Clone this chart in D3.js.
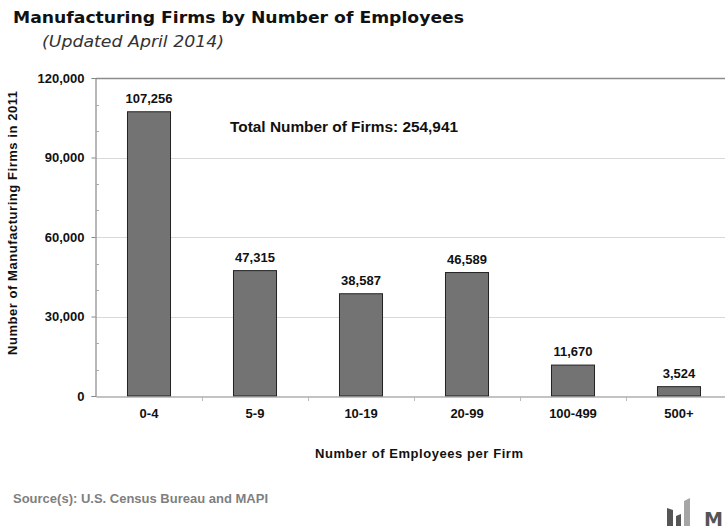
<!DOCTYPE html>
<html>
<head>
<meta charset="utf-8">
<script src="https://cdn.jsdelivr.net/npm/d3@7"></script>
<style>
  html, body { margin: 0; padding: 0; background: #fff; }
  svg { display: block; }
  text { font-family: "Liberation Sans", Arial, sans-serif; }
</style>
</head>
<body>
<svg id="chart" width="725" height="531"></svg>
<script>
// Firm-size classes and counts (2011)
const categories = ["0-4", "5-9", "10-19", "20-99", "100-499", "500+"];
const firms = [107256, 47315, 38587, 46589, 11670, 3524];
const totalFirms = 254941;
const yMajorTicks = [0, 30000, 60000, 90000, 120000];
const yMinorTicks = [10000, 20000, 40000, 50000, 70000, 80000, 100000, 110000];

const svg = d3.select("#chart");
const fmt = d3.format(",");

const plot = { left: 96, right: 732, top: 78, bottom: 396 };

const x = d3.scaleBand()
  .domain(categories)
  .range([plot.left, plot.right])
  .paddingInner(0.594)
  .paddingOuter(0.297);

const y = d3.scaleLinear()
  .domain([0, 120000])
  .range([plot.bottom, plot.top]);

// Title and subtitle
svg.append("text")
  .attr("x", 13).attr("y", 23)
  .attr("textLength", 451).attr("lengthAdjust", "spacingAndGlyphs")
  .style("font-family", "'DejaVu Sans', Verdana, sans-serif")
  .style("font-weight", "bold").style("font-size", "15.5px")
  .attr("fill", "#111")
  .text("Manufacturing Firms by Number of Employees");

svg.append("text")
  .attr("x", 42).attr("y", 47)
  .attr("textLength", 182).attr("lengthAdjust", "spacingAndGlyphs")
  .style("font-family", "'DejaVu Sans', Verdana, sans-serif")
  .style("font-style", "italic").style("font-size", "15px")
  .attr("fill", "#333")
  .text("(Updated April 2014)");

// Horizontal gridlines
svg.append("g").selectAll("line")
  .data(yMajorTicks.filter(d => d > 0))
  .join("line")
  .attr("x1", plot.left).attr("x2", plot.right)
  .attr("y1", d => Math.round(y(d)) + 0.5).attr("y2", d => Math.round(y(d)) + 0.5)
  .attr("stroke", d => d === 120000 ? "#8c8c8c" : "#d9d9d9")
  .attr("stroke-width", d => d === 120000 ? 1.5 : 1.2);

// Y axis with major ticks outside and minor ticks inside
const yAxis = d3.axisLeft(y)
  .tickValues(yMajorTicks)
  .tickSize(4)
  .tickPadding(7)
  .tickFormat(fmt);

const yG = svg.append("g")
  .attr("transform", `translate(${plot.left - 0.5},0)`)
  .call(yAxis);
yG.select(".domain").attr("stroke", "#888").attr("stroke-width", 1.2);
yG.selectAll(".tick line").attr("stroke", "#888");
yG.selectAll(".tick text")
  .style("font-family", "'Liberation Sans', Arial, sans-serif")
  .style("font-weight", "bold").style("font-size", "13px")
  .attr("fill", "#111");

svg.append("g").selectAll("line")
  .data(yMinorTicks)
  .join("line")
  .attr("x1", plot.left).attr("x2", plot.left + 3)
  .attr("y1", d => Math.round(y(d)) + 0.5).attr("y2", d => Math.round(y(d)) + 0.5)
  .attr("stroke", "#aaa");

// Bars
svg.append("g").selectAll("rect")
  .data(categories.map((c, i) => ({ c, v: firms[i] })))
  .join("rect")
  .attr("x", d => x(d.c))
  .attr("y", d => y(d.v))
  .attr("width", x.bandwidth())
  .attr("height", d => y(0) - y(d.v))
  .attr("fill", "#737373")
  .attr("stroke", "#222")
  .attr("stroke-width", 1);

// Value labels
svg.append("g").selectAll("text")
  .data(categories.map((c, i) => ({ c, v: firms[i] })))
  .join("text")
  .attr("x", d => x(d.c) + x.bandwidth() / 2)
  .attr("y", d => y(d.v) - 9)
  .attr("text-anchor", "middle")
  .style("font-weight", "bold").style("font-size", "13px")
  .attr("fill", "#111")
  .text(d => fmt(d.v));

// X axis
const xAxis = d3.axisBottom(x).tickSize(0).tickPadding(12);
const xG = svg.append("g")
  .attr("transform", `translate(0,${plot.bottom + 0.5})`)
  .call(xAxis);
xG.select(".domain").attr("stroke", "#888").attr("stroke-width", 1.2);
xG.selectAll(".tick text")
  .style("font-family", "'Liberation Sans', Arial, sans-serif")
  .style("font-weight", "bold").style("font-size", "13px")
  .attr("fill", "#111");

// Category separator ticks
svg.append("g").selectAll("line")
  .data(categories.slice(1))
  .join("line")
  .attr("x1", d => Math.round(x(d) - x.step() * x.paddingInner() / 2) + 0.5)
  .attr("x2", d => Math.round(x(d) - x.step() * x.paddingInner() / 2) + 0.5)
  .attr("y1", plot.bottom).attr("y2", plot.bottom + 5)
  .attr("stroke", "#bbb");

// Total annotation
svg.append("text")
  .attr("x", 230).attr("y", 132)
  .attr("textLength", 228).attr("lengthAdjust", "spacingAndGlyphs")
  .style("font-weight", "bold").style("font-size", "14.5px")
  .attr("fill", "#111")
  .text("Total Number of Firms: " + fmt(totalFirms));

// Axis titles
svg.append("text")
  .attr("transform", "translate(17,223) rotate(-90)")
  .attr("text-anchor", "middle")
  .attr("textLength", 264).attr("lengthAdjust", "spacing")
  .style("font-weight", "bold").style("font-size", "13px")
  .attr("fill", "#111")
  .text("Number of Manufacturing  Firms  in 2011");

svg.append("text")
  .attr("x", 315).attr("y", 458)
  .attr("textLength", 208).attr("lengthAdjust", "spacing")
  .style("font-weight", "bold").style("font-size", "13px")
  .attr("fill", "#111")
  .text("Number of Employees per Firm");

// Source note
svg.append("text")
  .attr("x", 13).attr("y", 503)
  .attr("textLength", 255).attr("lengthAdjust", "spacingAndGlyphs")
  .style("font-weight", "bold").style("font-size", "13px")
  .attr("fill", "#7f7f7f")
  .text("Source(s): U.S. Census Bureau and MAPI");

// Logo mark in the lower right corner
const logo = svg.append("g").attr("transform", "translate(667,498)");
logo.append("path").attr("d", "M0,10 L6,12 L6,28 L0,28 Z").attr("fill", "#555");
logo.append("path").attr("d", "M9,18 L14,16 L14,28 L9,28 Z").attr("fill", "#555");
logo.append("path").attr("d", "M17,3 L23,0 L23,28 L17,28 Z").attr("fill", "#a6a6a6");
logo.append("text")
  .attr("x", 37).attr("y", 28)
  .attr("textLength", 19).attr("lengthAdjust", "spacingAndGlyphs")
  .style("font-family", "'DejaVu Sans', Verdana, sans-serif")
  .style("font-weight", "bold").style("font-size", "19px")
  .attr("fill", "#555")
  .text("M");
</script>
</body>
</html>
